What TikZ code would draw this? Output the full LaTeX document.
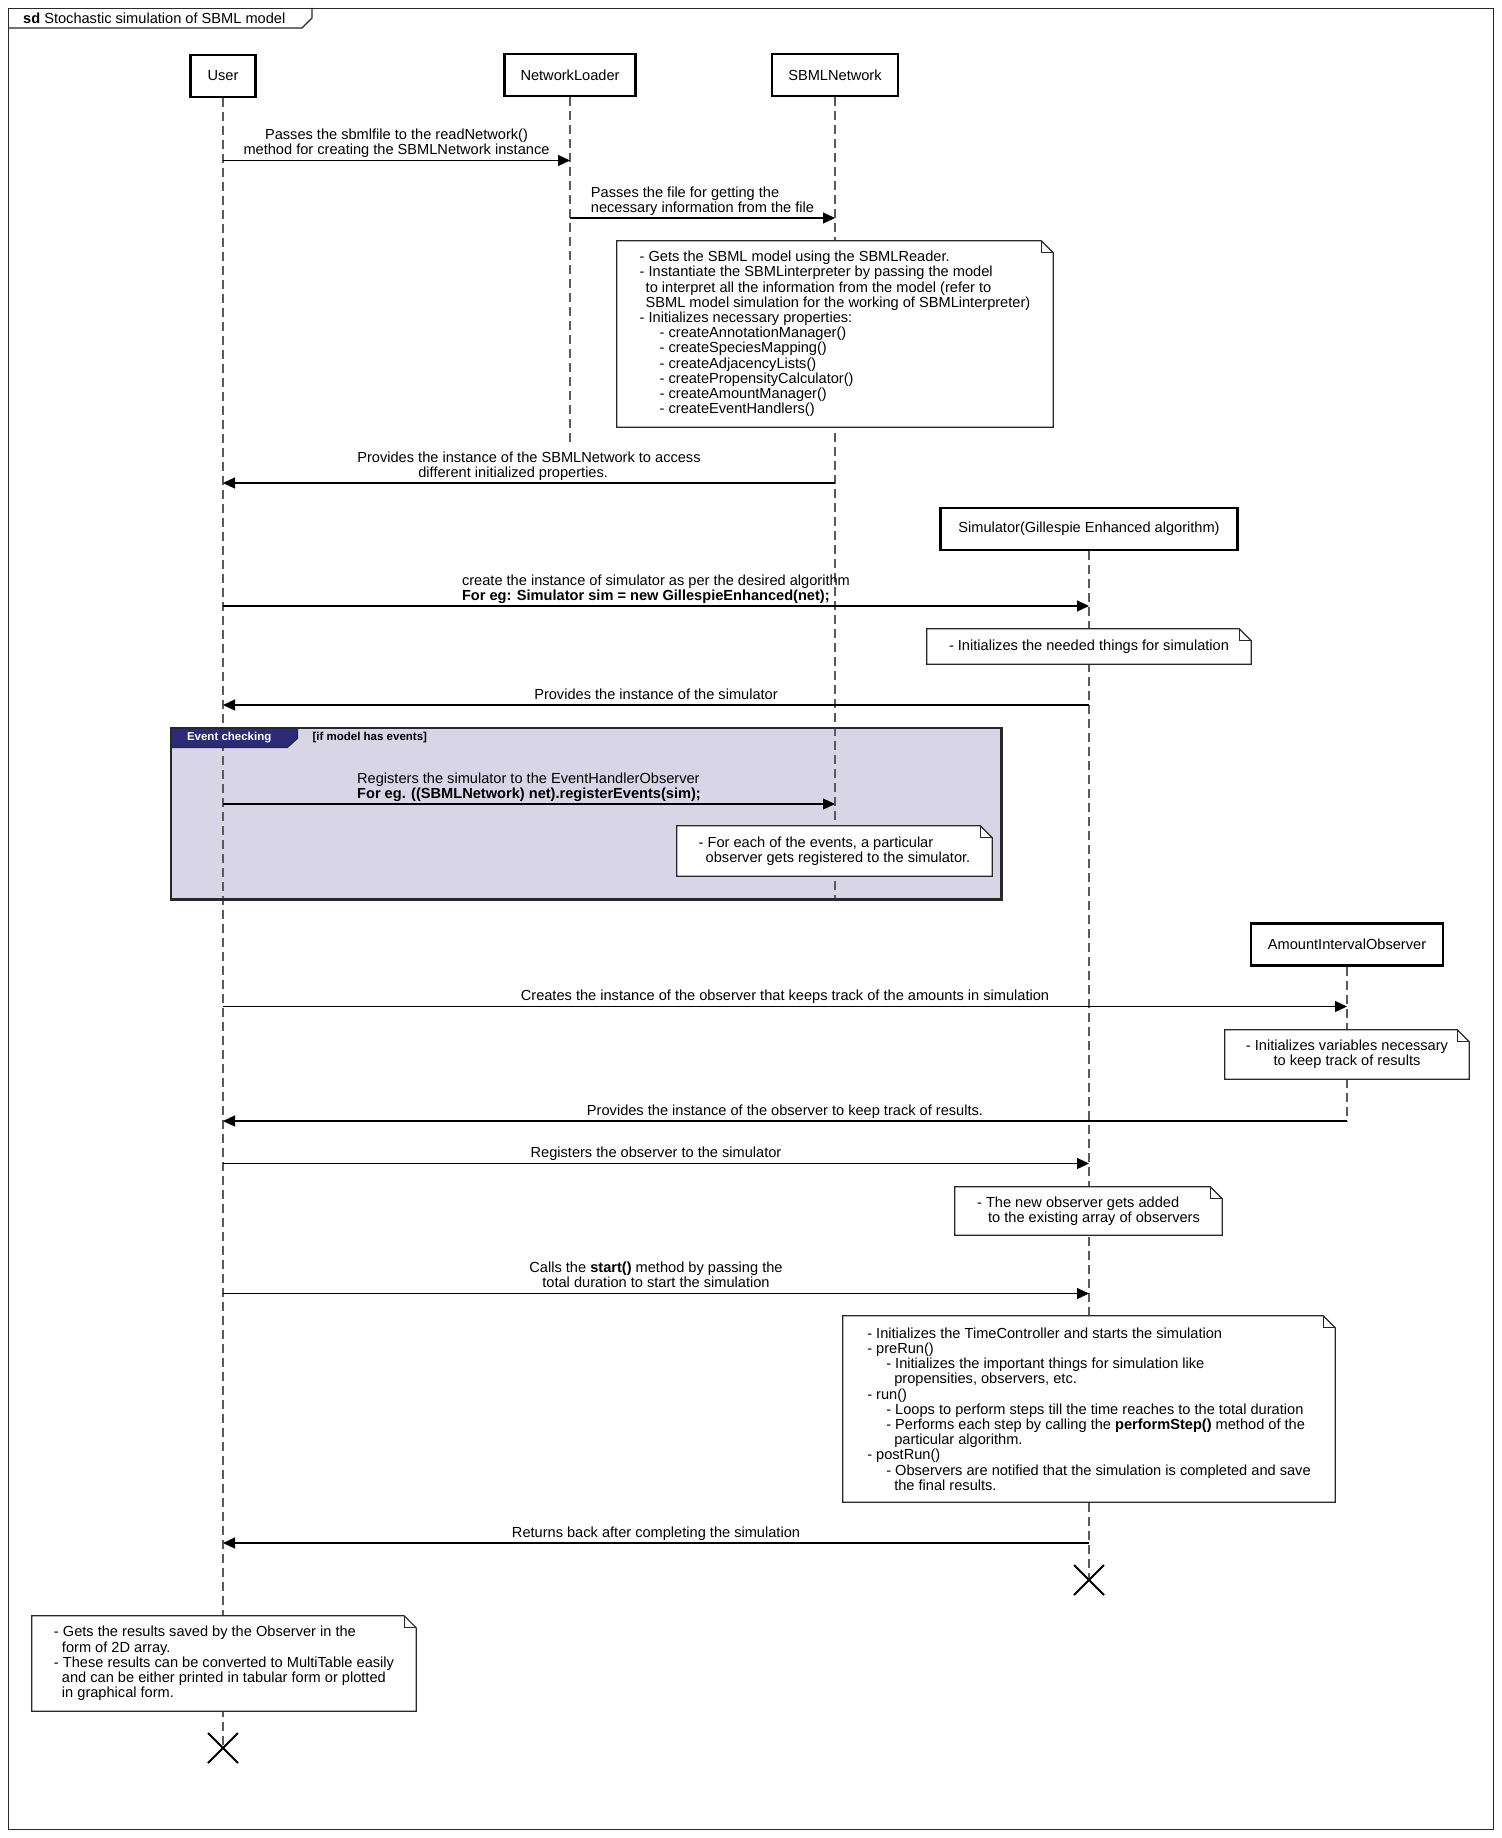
\documentclass[tikz,border=0pt]{standalone}
\usepackage{fontspec}
\setmainfont{Liberation Sans}
\usetikzlibrary{arrows.meta,positioning,shapes.misc}
\definecolor{fragfill}{RGB}{216,214,230}
\definecolor{fragnavy}{RGB}{44,43,120}
\definecolor{lifegray}{RGB}{90,90,90}
\definecolor{linegray}{RGB}{40,40,40}
\pgfdeclarelayer{back}
\pgfdeclarelayer{mid}
\pgfsetlayers{back,mid,main}
\tikzset{
  % 全局字体
  every node/.append style={font=\fontsize{14.6}{15.2}\selectfont},
  % 外框
  framebox/.style={draw=linegray, line width=1.3pt},
  % 参与者
  actor/.style={draw, line width=2.2pt, minimum height=42pt, inner sep=0pt},
  % 生命线
  life/.style={lifegray, line width=1.5pt, dash pattern=on 9pt off 5pt},
  % 注释
  note/.style={align=left, inner sep=0pt},
  notebox/.style={fill=white, draw=linegray, line width=1.2pt},
  % 消息
  msg/.style={-{Triangle[length=12pt,width=11pt]}, line width=1.2pt},
  msglab/.style={above=2pt, align=center, inner sep=0pt, text depth=3pt},
  msglabl/.style={msglab, align=left},
  % 组合片段
  fragment/.style={fill=fragfill, inner sep=0pt},
  fragline/.style={draw=linegray, line width=2.2pt},
  evtlabel/.style={text=white, inner sep=0pt, font=\fontsize{11.5}{13}\selectfont\bfseries},
  guard/.style={inner sep=0pt, font=\fontsize{11.5}{13}\selectfont\bfseries},
  % 销毁
  destroy/.style={cross out, draw, line width=2pt, minimum size=28pt, inner sep=0pt},
}

\begin{document}
\begin{tikzpicture}[x=1pt, y=-1pt]
  \useasboundingbox (0,0) rectangle (1501,1838);
  \begin{pgfonlayer}{back}
    \fill[white] (0,0) rectangle (1501,1838);
  \end{pgfonlayer}

  % Frame
  \node[framebox, minimum width=1485pt, minimum height=1821pt, anchor=north west, inner sep=0pt] (sd) at (8,8) {};
  \node[anchor=west, inner sep=0pt] (sdtitle) at (23,18) {\textbf{sd} Stochastic simulation of SBML model};
  \draw[framebox] (8,28) -- (302,28) -- (312,18) -- (312,8);

  % Participants
  \node[actor, minimum width=65pt] (user) at (223,76) {User};
  \node[actor, minimum width=131pt] (loader) at (570,75) {NetworkLoader};
  \node[actor, minimum width=126pt] (net) at (835,75) {SBMLNetwork};
  \node[actor, minimum width=297pt] (sim) at (1089,529) {Simulator(Gillespie Enhanced algorithm)};
  \node[actor, minimum width=192pt] (obs) at (1347,944.5) {AmountIntervalObserver};

  % Notes
  \node[note, minimum width=436pt, minimum height=186pt] (n1) at (835,334) {%
    - Gets the SBML model using the SBMLReader.\\
    - Instantiate the SBMLinterpreter by passing the model\\
    \hspace*{6pt}to interpret all the information from the model (refer to\\
    \hspace*{6pt}SBML model simulation for the working of SBMLinterpreter)\\
    - Initializes necessary properties:\\
    \hspace*{20pt}- createAnnotationManager()\\
    \hspace*{20pt}- createSpeciesMapping()\\
    \hspace*{20pt}- createAdjacencyLists()\\
    \hspace*{20pt}- createPropensityCalculator()\\
    \hspace*{20pt}- createAmountManager()\\
    \hspace*{20pt}- createEventHandlers()};
  \node[note, minimum width=324pt, minimum height=35pt] (n2) at (1089,646.5) {- Initializes the needed things for simulation};
  \node[note, minimum width=315pt, minimum height=50pt] (n3) at (834.5,851) {%
    - For each of the events, a particular\\
    \hspace*{7pt}observer gets registered to the simulator.};
  \node[note, align=center, minimum width=244pt, minimum height=49pt] (n4) at (1347,1054.5) {%
    - Initializes variables necessary\\
    to keep track of results};
  \node[note, minimum width=267pt, minimum height=48pt] (n5) at (1088.5,1211) {%
    - The new observer gets added\\
    \hspace*{11pt}to the existing array of observers};
  \node[note, minimum width=492pt, minimum height=186pt] (n6) at (1089,1409) {%
    - Initializes the TimeController and starts the simulation\\
    - preRun()\\
    \hspace*{19pt}- Initializes the important things for simulation like\\
    \hspace*{27pt}propensities, observers, etc.\\
    - run()\\
    \hspace*{19pt}- Loops to perform steps till the time reaches to the total duration\\
    \hspace*{19pt}- Performs each step by calling the \textbf{performStep()} method of the\\
    \hspace*{27pt}particular algorithm.\\
    - postRun()\\
    \hspace*{19pt}- Observers are notified that the simulation is completed and save\\
    \hspace*{27pt}the final results.};
  \node[note, minimum width=384pt, minimum height=95pt] (n7) at (224,1663.5) {%
    - Gets the results saved by the Observer in the\\
    \hspace*{8pt}form of 2D array.\\
    - These results can be converted to MultiTable easily\\
    \hspace*{8pt}and can be either printed in tabular form or plotted\\
    \hspace*{8pt}in graphical form.};

  % Event checking fragment
  \begin{pgfonlayer}{back}
    \node[fragment, minimum width=830pt, minimum height=171pt, anchor=north west] (evt) at (171,728) {};
  \end{pgfonlayer}
  \node[evtlabel, minimum width=116pt, minimum height=19pt, anchor=north west] (evttab) at (evt.north west) {Event checking};
  \node[guard, right=25pt of evttab] (evtguard) {[if model has events]};
  \begin{pgfonlayer}{mid}
    \fill[fragnavy] (evttab.north west) -- ([xshift=10pt]evttab.north east) -- ([xshift=10pt,yshift=9pt]evttab.south east)
      -- (evttab.south east) -- (evttab.south west) -- cycle;
    \draw[linegray, line width=1.2pt] (evttab.south west) -- (evttab.south east) -- ([xshift=10pt,yshift=9pt]evttab.south east)
      -- ([xshift=10pt]evttab.north east);
    \draw[fragline] (evt.north west) rectangle (evt.south east);
    \foreach \n in {n1,n2,n3,n4,n5,n6,n7}{
      \filldraw[notebox] (\n.north west) -- ([xshift=-12pt]\n.north east) -- ([yshift=-12pt]\n.north east)
        -- (\n.south east) -- (\n.south west) -- cycle;
      \draw[notebox, fill=none] ([xshift=-12pt]\n.north east) |- ([yshift=-12pt]\n.north east);
    }
  \end{pgfonlayer}

  % Lifelines
  \coordinate (userx) at (223,1748);
  \coordinate (simx) at (1089,1580);
  \begin{pgfonlayer}{back}
    \draw[life] (user.south) -- (userx);
    \draw[life] (loader.south) -- (loader.south |- 0,447);
    \draw[life] (net.south) -- (net.south |- 0,899);
    \draw[life] (sim.south) -- (simx);
    \draw[life] (obs.south) -- (obs.south |- 0,1121);
  \end{pgfonlayer}
  \node[destroy] (simend) at (simx) {};
  \node[destroy] (userend) at (userx) {};

  % Messages
  \draw[msg] (user |- 0,160.5) -- node[msglab] {Passes the sbmlfile to the readNetwork()\\ method for creating the SBMLNetwork instance} (loader |- 0,160.5);
  \draw[msg] (loader |- 0,218) -- node[msglabl] {Passes the file for getting the\\necessary information from the file} (net |- 0,218);
  \draw[msg] (net |- 0,483) -- node[msglabl] {Provides the instance of the SBMLNetwork to access\\\hspace*{61pt}different initialized properties.} (user |- 0,483);
  \draw[msg] (user |- 0,606) -- node[msglabl] {create the instance of simulator as per the desired algorithm\\\textbf{For eg: Simulator sim = new GillespieEnhanced(net);}} (sim |- 0,606);
  \draw[msg] (sim |- 0,705) -- node[msglab] {Provides the instance of the simulator} (user |- 0,705);
  \draw[msg] (user |- 0,804) -- node[msglabl] {Registers the simulator to the EventHandlerObserver\\\textbf{For eg. ((SBMLNetwork) net).registerEvents(sim);}} (net |- 0,804);
  \draw[msg] (user |- 0,1006.5) -- node[msglab] {Creates the instance of the observer that keeps track of the amounts in simulation} (obs |- 0,1006.5);
  \draw[msg] (obs |- 0,1121) -- node[msglab] {Provides the instance of the observer to keep track of results.} (user |- 0,1121);
  \draw[msg] (user |- 0,1163.5) -- node[msglab] {Registers the observer to the simulator} (sim |- 0,1163.5);
  \draw[msg] (user |- 0,1293.5) -- node[msglab] {Calls the \textbf{start()} method by passing the\\total duration to start the simulation} (sim |- 0,1293.5);
  \draw[msg] (sim |- 0,1543) -- node[msglab] {Returns back after completing the simulation} (user |- 0,1543);
\end{tikzpicture}
\end{document}
